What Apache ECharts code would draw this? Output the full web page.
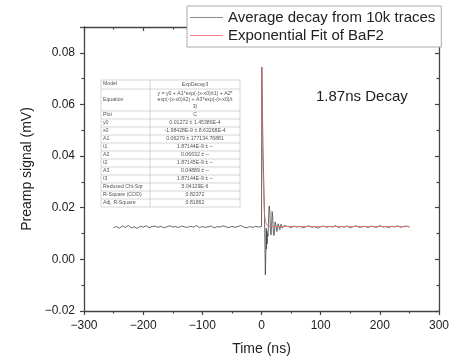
<!DOCTYPE html>
<html>
<head>
<meta charset="utf-8">
<script src="https://cdn.jsdelivr.net/npm/echarts@6/dist/echarts.min.js"></script>
<style>
  html, body { margin: 0; padding: 0; background: #fff; }
  #main { width: 469px; height: 361px; }
</style>
</head>
<body>
<div id="main"></div>
<script>
// average trace, [time ns, signal mV]
const avgTrace = [
  [-250,0.0123],[-245,0.0127],[-240,0.0121],[-235,0.0129],[-230,0.0124],[-225,0.0131],[-220,0.0122],[-215,0.0126],
  [-210,0.0120],[-205,0.0128],[-200,0.0125],[-195,0.0130],[-190,0.0123],[-185,0.0127],[-180,0.0129],[-175,0.0124],
  [-170,0.0128],[-165,0.0122],[-160,0.0126],[-155,0.0130],[-150,0.0125],[-145,0.0127],[-140,0.0123],[-135,0.0129],
  [-130,0.0126],[-125,0.0124],[-120,0.0128],[-115,0.0125],[-110,0.0131],[-105,0.0123],[-100,0.0127],[-95,0.0124],
  [-90,0.0126],[-85,0.0129],[-80,0.0122],[-75,0.0127],[-70,0.0125],[-65,0.0130],[-60,0.0126],[-55,0.0123],
  [-50,0.0128],[-45,0.0124],[-40,0.0127],[-35,0.0131],[-30,0.0125],[-25,0.0122],[-20,0.0127],[-15,0.0124],
  [-10,0.0128],[-5,0.0125],[-2,0.0124],[0,0.0127],
  [0.5,0.0745],[1.5,0.058],[2.5,0.043],[3.5,0.033],[4.5,0.024],[5.5,0.010],[6.5,-0.006],[7.5,0.005],
  [8,0.012],[8.5,0.004],[9,0.011],[9.5,0.006],[10,0.010],[11,0.009],[12,0.016],[13,0.0207],[14,0.019],
  [15,0.012],[16,0.0095],[17,0.013],[18,0.0185],[19,0.016],[20,0.011],[21,0.0092],[22,0.011],[23,0.0145],
  [24,0.0150],[25,0.0125],[26,0.0108],[27,0.0118],[28,0.0138],[29,0.0142],[30,0.0124],[31,0.0115],[32,0.0122],
  [33,0.0136],[34,0.0133],[35,0.0121],[36,0.0119],[38,0.0131],[40,0.0124],
  [45,0.0127],[50,0.0123],[55,0.0129],[60,0.0125],[65,0.0128],[70,0.0122],[75,0.0126],[80,0.0130],
  [85,0.0124],[90,0.0127],[95,0.0121],[100,0.0126],[105,0.0129],[110,0.0124],[115,0.0128],[120,0.0125],
  [125,0.0131],[130,0.0123],[135,0.0127],[140,0.0125],[145,0.0129],[150,0.0122],[155,0.0127],[160,0.0130],
  [165,0.0124],[170,0.0126],[175,0.0128],[180,0.0123],[185,0.0129],[190,0.0126],[195,0.0124],[200,0.0131],
  [205,0.0125],[210,0.0127],[215,0.0123],[220,0.0128],[225,0.0126],[230,0.0130],[235,0.0124],[240,0.0127],
  [245,0.0129],[250,0.0125]
];

// exponential fit
const fitTrace = [
  [0.4,0.0745],[1,0.058],[2,0.040],[3,0.029],[4,0.022],[5,0.018],[6,0.0157],[7,0.0144],
  [8,0.0137],[9,0.0133],[10,0.0130],[12,0.0128],[15,0.0127],[250,0.0127]
];

const seriesNames = ['Average decay from 10k traces', 'Exponential Fit of BaF2'];

const tableRows = [
  ['Model', 'ExpDecay3'],
  ['Equation', 'y = y0 + A1*exp(-(x-x0)/t1) + A2*\nexp(-(x-x0)/t2) + A3*exp(-(x-x0)/t\n3)'],
  ['Plot', 'C'],
  ['y0', '0.01272 ± 1.45386E-4'],
  ['x0', '-1.98428E-9 ± 8.63268E-4'],
  ['A1', '0.06279 ± 177134.76881'],
  ['t1', '1.87144E-9 ± --'],
  ['A2', '0.06632 ± --'],
  ['t2', '1.87145E-9 ± --'],
  ['A3', '0.04889 ± --'],
  ['t3', '1.87144E-9 ± --'],
  ['Reduced Chi-Sqr', '5.04129E-6'],
  ['R-Square (COD)', '0.82372'],
  ['Adj. R-Square', '0.81862']
];

const font = 'Arial, "Liberation Sans", sans-serif';
const minus = v => String(v).replace('-', '\u2212');

// table as graphic elements
function buildTable() {
  const x0 = 101, x1 = 150, x2 = 240;
  const els = [];
  let y = 80;
  const heights = tableRows.map((r, i) => i === 0 ? 9 : (i === 1 ? 22 : 8));
  const top = y;
  tableRows.forEach((r, i) => {
    const h = heights[i];
    els.push({ type: 'text', left: x0 + 2, top: y + h / 2 - 3,
      style: { text: r[0], fontSize: 5.2, fill: '#555', fontFamily: font } });
    els.push({ type: 'text', x: (x1 + x2) / 2, y: y + h / 2,
      style: { text: r[1], fontSize: 5.2, fill: '#555', fontFamily: font,
        align: 'center', verticalAlign: 'middle', lineHeight: 6.5 } });
    y += h;
    if (i < tableRows.length - 1) {
      els.push({ type: 'line', shape: { x1: x0, y1: y, x2: x2, y2: y },
        style: { stroke: '#ccc', lineWidth: 0.8 } });
    }
  });
  els.push({ type: 'rect', shape: { x: x0, y: top, width: x2 - x0, height: y - top },
    style: { fill: null, stroke: '#ccc', lineWidth: 0.8 } });
  els.push({ type: 'line', shape: { x1: x1, y1: top, x2: x1, y2: y },
    style: { stroke: '#ccc', lineWidth: 0.8 } });
  return { type: 'group', z: 50, children: [
    { type: 'rect', shape: { x: x0, y: top, width: x2 - x0, height: y - top }, style: { fill: '#fff' } }
  ].concat(els) };
}

const axisLine = { show: true, onZero: false, lineStyle: { color: '#444', width: 1.3 } };

const chart = echarts.init(document.getElementById('main'));
chart.setOption({
  animation: false,
  grid: { left: 84, right: 30, top: 27, bottom: 47 },
  legend: {
    data: [
      { name: seriesNames[0], itemStyle: { color: '#8a8a8a' } },
      { name: seriesNames[1], itemStyle: { color: '#f08080' } }
    ],
    orient: 'vertical',
    left: 187, top: 6,
    padding: [3, 6, 3, 3],
    icon: 'rect',
    itemWidth: 33, itemHeight: 1.2, itemGap: 1,
    backgroundColor: '#fff',
    borderColor: '#aaa', borderWidth: 1, borderRadius: 0,
    textStyle: { fontSize: 15, color: '#222', fontFamily: font, lineHeight: 17 },
    z: 60
  },
  xAxis: [{
    type: 'value', position: 'bottom', min: -300, max: 300, interval: 100,
    name: 'Time (ns)', nameLocation: 'middle', nameGap: 31,
    nameTextStyle: { fontSize: 14, color: '#222', fontFamily: font },
    axisLine: axisLine,
    axisTick: { show: true, length: 4, lineStyle: { color: '#444', width: 1.2 } },
    minorTick: { show: true, splitNumber: 2, length: 2.5, lineStyle: { color: '#444', width: 1.2 } },
    axisLabel: { margin: 9, fontSize: 12, color: '#222', fontFamily: font, formatter: minus },
    splitLine: { show: false }
  }, {
    type: 'value', position: 'top', min: -300, max: 300, interval: 100,
    axisLine: axisLine,
    axisTick: { show: true, inside: true, length: 4, lineStyle: { color: '#444', width: 1.2 } },
    minorTick: { show: true, splitNumber: 2, length: 2.5, lineStyle: { color: '#444', width: 1.2 } },
    axisLabel: { show: false },
    splitLine: { show: false }
  }],
  yAxis: [{
    type: 'value', position: 'left', min: -0.02, max: 0.09, interval: 0.02,
    name: 'Preamp signal (mV)', nameLocation: 'middle', nameGap: 40,
    nameTextStyle: { fontSize: 14, color: '#222', fontFamily: font },
    axisLine: axisLine,
    axisTick: { show: true, length: 4, lineStyle: { color: '#444', width: 1.2 } },
    minorTick: { show: true, splitNumber: 2, length: 2.5, lineStyle: { color: '#444', width: 1.2 } },
    axisLabel: { margin: 9, fontSize: 12, color: '#222', fontFamily: font, showMaxLabel: false,
      formatter: v => minus(v.toFixed(2)) },
    splitLine: { show: false }
  }, {
    type: 'value', position: 'right', min: -0.02, max: 0.09, interval: 0.02,
    axisLine: axisLine,
    axisTick: { show: true, inside: true, length: 4, lineStyle: { color: '#444', width: 1.2 } },
    minorTick: { show: true, splitNumber: 2, length: 2.5, lineStyle: { color: '#444', width: 1.2 } },
    axisLabel: { show: false },
    splitLine: { show: false }
  }],
  graphic: [
    buildTable(),
    { type: 'text', left: 316, top: 89, z: 50,
      style: { text: '1.87ns Decay', fontSize: 15, fill: '#222', fontFamily: font } }
  ],
  series: [{
    name: seriesNames[0], type: 'line', data: avgTrace, symbol: 'none',
    lineStyle: { color: '#444', width: 0.8 }, z: 2
  }, {
    name: seriesNames[1], type: 'line', data: fitTrace, symbol: 'none',
    lineStyle: { color: '#e46c6c', width: 0.8 }, z: 3
  }]
});
</script>
</body>
</html>
